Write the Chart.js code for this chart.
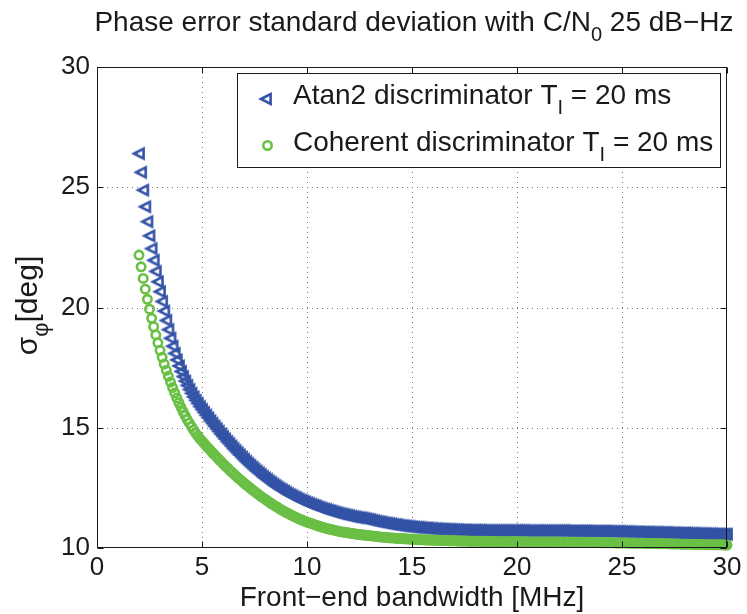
<!DOCTYPE html>
<html><head><meta charset="utf-8">
<script src="https://cdn.jsdelivr.net/npm/chart.js@4.4.1/dist/chart.umd.min.js"></script>
<style>html,body{margin:0;padding:0;background:#fff}canvas{display:block}</style>
</head><body>
<canvas id="c" width="747" height="614" style="width:747px;height:614px"></canvas>
<script>
// ---- data ----
const bandwidthMHz = [
2,2.1,2.2,2.3,2.4,2.5,2.6,2.7,2.8,2.9,
3,3.1,3.2,3.3,3.4,3.5,3.6,3.7,3.8,3.9,
4,4.1,4.2,4.3,4.4,4.5,4.6,4.7,4.8,4.9,
5,5.1,5.2,5.3,5.4,5.5,5.6,5.7,5.8,5.9,
6,6.1,6.2,6.3,6.4,6.5,6.6,6.7,6.8,6.9,
7,7.1,7.2,7.3,7.4,7.5,7.6,7.7,7.8,7.9,
8,8.1,8.2,8.3,8.4,8.5,8.6,8.7,8.8,8.9,
9,9.1,9.2,9.3,9.4,9.5,9.6,9.7,9.8,9.9,
10,10.1,10.2,10.3,10.4,10.5,10.6,10.7,10.8,10.9,
11,11.1,11.2,11.3,11.4,11.5,11.6,11.7,11.8,11.9,
12,12.1,12.2,12.3,12.4,12.5,12.6,12.7,12.8,12.9,
13,13.1,13.2,13.3,13.4,13.5,13.6,13.7,13.8,13.9,
14,14.1,14.2,14.3,14.4,14.5,14.6,14.7,14.8,14.9,
15,15.1,15.2,15.3,15.4,15.5,15.6,15.7,15.8,15.9,
16,16.1,16.2,16.3,16.4,16.5,16.6,16.7,16.8,16.9,
17,17.1,17.2,17.3,17.4,17.5,17.6,17.7,17.8,17.9,
18,18.1,18.2,18.3,18.4,18.5,18.6,18.7,18.8,18.9,
19,19.1,19.2,19.3,19.4,19.5,19.6,19.7,19.8,19.9,
20,20.1,20.2,20.3,20.4,20.5,20.6,20.7,20.8,20.9,
21,21.1,21.2,21.3,21.4,21.5,21.6,21.7,21.8,21.9,
22,22.1,22.2,22.3,22.4,22.5,22.6,22.7,22.8,22.9,
23,23.1,23.2,23.3,23.4,23.5,23.6,23.7,23.8,23.9,
24,24.1,24.2,24.3,24.4,24.5,24.6,24.7,24.8,24.9,
25,25.1,25.2,25.3,25.4,25.5,25.6,25.7,25.8,25.9,
26,26.1,26.2,26.3,26.4,26.5,26.6,26.7,26.8,26.9,
27,27.1,27.2,27.3,27.4,27.5,27.6,27.7,27.8,27.9,
28,28.1,28.2,28.3,28.4,28.5,28.6,28.7,28.8,28.9,
29,29.1,29.2,29.3,29.4,29.5,29.6,29.7,29.8,29.9,
30];

const atan2Deg = [
26.40,25.62,24.88,24.19,23.57,22.98,22.45,21.96,21.50,21.07,
20.66,20.25,19.85,19.46,19.08,18.72,18.39,18.09,17.82,17.57,
17.34,17.13,16.94,16.76,16.59,16.43,16.28,16.14,16.01,15.88,
15.76,15.64,15.52,15.41,15.29,15.18,15.07,14.96,14.85,14.74,
14.64,14.54,14.43,14.34,14.24,14.14,14.05,13.96,13.87,13.78,
13.69,13.60,13.52,13.44,13.36,13.28,13.20,13.13,13.06,12.98,
12.91,12.85,12.78,12.72,12.65,12.59,12.53,12.47,12.42,12.37,
12.31,12.26,12.21,12.17,12.12,12.08,12.03,11.99,11.96,11.92,
11.88,11.85,11.81,11.78,11.75,11.71,11.68,11.65,11.62,11.60,
11.57,11.54,11.52,11.49,11.47,11.44,11.42,11.40,11.38,11.36,
11.34,11.32,11.30,11.29,11.27,11.26,11.25,11.23,11.21,11.19,
11.17,11.15,11.13,11.11,11.09,11.08,11.06,11.04,11.03,11.01,
11.00,10.98,10.97,10.96,10.94,10.93,10.92,10.91,10.90,10.89,
10.88,10.87,10.86,10.86,10.85,10.84,10.83,10.83,10.82,10.81,
10.81,10.80,10.80,10.79,10.79,10.78,10.78,10.77,10.77,10.77,
10.76,10.76,10.76,10.75,10.75,10.75,10.75,10.74,10.74,10.74,
10.74,10.74,10.74,10.74,10.73,10.73,10.73,10.73,10.73,10.73,
10.73,10.73,10.73,10.73,10.73,10.73,10.73,10.73,10.73,10.73,
10.73,10.73,10.73,10.73,10.72,10.72,10.72,10.72,10.72,10.72,
10.72,10.72,10.72,10.72,10.72,10.72,10.72,10.72,10.72,10.72,
10.72,10.72,10.72,10.72,10.71,10.71,10.71,10.71,10.71,10.71,
10.71,10.71,10.71,10.71,10.71,10.70,10.70,10.70,10.70,10.70,
10.70,10.70,10.70,10.70,10.69,10.69,10.69,10.69,10.69,10.69,
10.68,10.68,10.68,10.68,10.68,10.67,10.67,10.67,10.67,10.66,
10.66,10.66,10.66,10.66,10.65,10.65,10.65,10.65,10.64,10.64,
10.64,10.64,10.64,10.63,10.63,10.63,10.63,10.62,10.62,10.62,
10.62,10.62,10.61,10.61,10.61,10.61,10.60,10.60,10.60,10.60,
10.59,10.59,10.59,10.59,10.58,10.58,10.58,10.58,10.57,10.57,
10.57];

const coherentDeg = [
22.18,21.69,21.21,20.76,20.34,19.93,19.55,19.20,18.86,18.53,
18.22,17.93,17.65,17.39,17.14,16.90,16.67,16.45,16.24,16.04,
15.85,15.67,15.50,15.34,15.19,15.05,14.91,14.78,14.66,14.55,
14.45,14.35,14.25,14.15,14.06,13.96,13.87,13.78,13.69,13.60,
13.51,13.42,13.34,13.25,13.17,13.09,13.01,12.93,12.85,12.78,
12.70,12.63,12.56,12.49,12.42,12.35,12.28,12.22,12.15,12.09,
12.03,11.97,11.91,11.85,11.79,11.74,11.69,11.63,11.58,11.53,
11.48,11.44,11.39,11.35,11.30,11.26,11.22,11.18,11.15,11.11,
11.08,11.05,11.02,10.99,10.96,10.93,10.90,10.87,10.85,10.82,
10.80,10.78,10.76,10.74,10.72,10.70,10.68,10.67,10.65,10.64,
10.62,10.61,10.60,10.58,10.57,10.56,10.55,10.54,10.53,10.52,
10.51,10.50,10.49,10.48,10.47,10.46,10.45,10.45,10.44,10.43,
10.42,10.42,10.41,10.40,10.40,10.39,10.38,10.38,10.37,10.37,
10.36,10.36,10.35,10.35,10.34,10.34,10.34,10.33,10.33,10.33,
10.32,10.32,10.32,10.31,10.31,10.31,10.31,10.30,10.30,10.30,
10.30,10.30,10.29,10.29,10.29,10.29,10.29,10.28,10.28,10.28,
10.28,10.28,10.28,10.28,10.27,10.27,10.27,10.27,10.27,10.27,
10.27,10.27,10.26,10.26,10.26,10.26,10.26,10.26,10.26,10.26,
10.26,10.26,10.26,10.26,10.25,10.25,10.25,10.25,10.25,10.25,
10.25,10.25,10.25,10.25,10.25,10.25,10.25,10.25,10.25,10.25,
10.25,10.25,10.24,10.24,10.24,10.24,10.24,10.24,10.24,10.24,
10.24,10.24,10.23,10.23,10.23,10.23,10.23,10.23,10.23,10.23,
10.22,10.22,10.22,10.22,10.22,10.22,10.22,10.21,10.21,10.21,
10.21,10.21,10.21,10.21,10.20,10.20,10.20,10.20,10.20,10.20,
10.20,10.19,10.19,10.19,10.19,10.19,10.19,10.18,10.18,10.18,
10.18,10.18,10.18,10.17,10.17,10.17,10.17,10.17,10.16,10.16,
10.16,10.16,10.16,10.16,10.15,10.15,10.15,10.15,10.15,10.14,
10.14,10.14,10.14,10.14,10.13,10.13,10.13,10.13,10.13,10.12,
10.12];

const xTicks = [0, 5, 10, 15, 20, 25, 30];
const yTicks = [10, 15, 20, 25, 30];
const seriesNames = ['Atan2 discriminator T', 'Coherent discriminator T'];

// ---- styling ----
const FONT = '"Liberation Sans", Arial, Helvetica, sans-serif';
const TXT = '#1a1a1a';
const BLUE = '#3353a6';
const GREEN = '#6abf45';

function triImage(color) {
  const c = document.createElement('canvas');
  c.width = 20; c.height = 20;
  const g = c.getContext('2d');
  g.strokeStyle = color; g.lineWidth = 2.6; g.lineJoin = 'miter'; g.miterLimit = 10;
  g.beginPath(); g.moveTo(5, 10); g.lineTo(14.6, 5.2); g.lineTo(14.6, 14.8); g.closePath(); g.stroke();
  return c;
}
const TRI = triImage(BLUE);

function richText(ctx, parts, x, y, size, align) {
  const subSize = Math.round(size * 0.72);
  let total = 0;
  parts.forEach(p => {
    ctx.font = (p.sub ? subSize : size) + 'px ' + FONT;
    p.w = ctx.measureText(p.t).width; total += p.w;
  });
  let cx = align === 'center' ? x - total / 2 : x;
  ctx.textAlign = 'left'; ctx.textBaseline = 'alphabetic';
  parts.forEach(p => {
    ctx.font = (p.sub ? subSize : size) + 'px ' + FONT;
    ctx.fillText(p.t, cx, y + (p.sub ? size * 0.36 : 0));
    cx += p.w;
  });
}

const frame = {
  id: 'frame',
  beforeDatasetsDraw(chart) {
    const { ctx, chartArea: a, scales: { x, y } } = chart;
    ctx.save();
    ctx.strokeStyle = '#787878'; ctx.lineWidth = 1; ctx.setLineDash([1, 4]);
    xTicks.forEach(v => {
      if (v <= x.min || v >= x.max) return;
      const px = Math.round(x.getPixelForValue(v)) + 0.5;
      ctx.beginPath(); ctx.moveTo(px, a.top); ctx.lineTo(px, a.bottom); ctx.stroke();
    });
    yTicks.forEach(v => {
      if (v <= y.min || v >= y.max) return;
      const py = Math.round(y.getPixelForValue(v)) + 0.5;
      ctx.beginPath(); ctx.moveTo(a.left, py); ctx.lineTo(a.right, py); ctx.stroke();
    });
    ctx.restore();
  },
  afterDraw(chart) {
    const { ctx, chartArea: a, scales: { x, y } } = chart;
    ctx.save();
    // axes box with inward ticks
    ctx.strokeStyle = '#1a1a1a'; ctx.lineWidth = 1; ctx.setLineDash([]);
    const L = Math.round(a.left) + 0.5, R = Math.round(a.right) - 0.5;
    const T = Math.round(a.top) + 0.5, B = Math.round(a.bottom) - 0.5;
    ctx.strokeRect(L, T, R - L, B - T);
    ctx.beginPath();
    xTicks.forEach(v => {
      const px = Math.round(x.getPixelForValue(v)) + 0.5;
      ctx.moveTo(px, B); ctx.lineTo(px, B - 6);
      ctx.moveTo(px, T); ctx.lineTo(px, T + 6);
    });
    yTicks.forEach(v => {
      const py = Math.round(y.getPixelForValue(v)) + 0.5;
      ctx.moveTo(L, py); ctx.lineTo(L + 6, py);
      ctx.moveTo(R, py); ctx.lineTo(R - 6, py);
    });
    ctx.stroke();

    ctx.fillStyle = TXT;
    // title
    richText(ctx, [{ t: 'Phase error standard deviation with C/N' }, { t: '0', sub: true }, { t: ' 25 dB\u2212Hz' }],
      (a.left + a.right) / 2 + 2, 31, 28, 'center');
    // x axis title
    richText(ctx, [{ t: 'Front\u2212end bandwidth [MHz]' }], (a.left + a.right) / 2, 606, 28, 'center');
    // y axis title
    ctx.save();
    ctx.translate(37, (a.top + a.bottom) / 2 - 2);
    ctx.rotate(-Math.PI / 2);
    richText(ctx, [{ t: '\u03c3' }, { t: '\u03c6', sub: true }, { t: '[deg]' }], 0, 0, 30, 'center');
    ctx.restore();

    // legend
    ctx.fillStyle = '#ffffff';
    ctx.fillRect(237.5, 73.5, 483, 94);
    ctx.strokeStyle = '#1a1a1a'; ctx.lineWidth = 1;
    ctx.strokeRect(237.5, 73.5, 483, 94);
    ctx.drawImage(TRI, 266 - 10, 99 - 10);
    ctx.beginPath(); ctx.arc(267.5, 145.5, 4.2, 0, Math.PI * 2);
    ctx.strokeStyle = GREEN; ctx.lineWidth = 2.6; ctx.stroke();
    ctx.fillStyle = TXT;
    richText(ctx, [{ t: seriesNames[0] }, { t: 'I', sub: true }, { t: ' = 20 ms' }], 293, 104, 28, 'left');
    richText(ctx, [{ t: seriesNames[1] }, { t: 'I', sub: true }, { t: ' = 20 ms' }], 293, 151, 28, 'left');
    ctx.restore();
  }
};

const toPts = ys => bandwidthMHz.map((b, i) => ({ x: b, y: ys[i] }));

new Chart(document.getElementById('c'), {
  type: 'scatter',
  data: {
    datasets: [
      { label: seriesNames[0], data: toPts(atan2Deg), pointStyle: TRI, pointRadius: 6,
        showLine: false, clip: false, order: 2 },
      { label: seriesNames[1], data: toPts(coherentDeg), pointStyle: 'circle', pointRadius: 4.2,
        pointBorderWidth: 2.6, pointBorderColor: GREEN, pointBackgroundColor: 'rgba(0,0,0,0)',
        showLine: false, clip: false, order: 1 }
    ]
  },
  options: {
    responsive: false, animation: false, devicePixelRatio: 1, events: [],
    layout: { padding: { left: 0, right: 20, top: 67, bottom: 0 } },
    plugins: { legend: { display: false }, tooltip: { enabled: false }, title: { display: false } },
    scales: {
      x: {
        type: 'linear', min: 0, max: 30,
        afterBuildTicks: s => { s.ticks = xTicks.map(v => ({ value: v })); },
        afterFit: s => { s.height = 66; },
        ticks: { font: { family: FONT, size: 26 }, color: TXT, padding: 4, maxRotation: 0, autoSkip: false },
        grid: { display: false, drawTicks: false }, border: { display: false }
      },
      y: {
        type: 'linear', min: 10, max: 30,
        afterBuildTicks: s => { s.ticks = yTicks.map(v => ({ value: v })); },
        afterFit: s => { s.width = 97; },
        ticks: { font: { family: FONT, size: 26 }, color: TXT, padding: 7, autoSkip: false },
        grid: { display: false, drawTicks: false }, border: { display: false }
      }
    }
  },
  plugins: [frame]
});
</script>
</body></html>
